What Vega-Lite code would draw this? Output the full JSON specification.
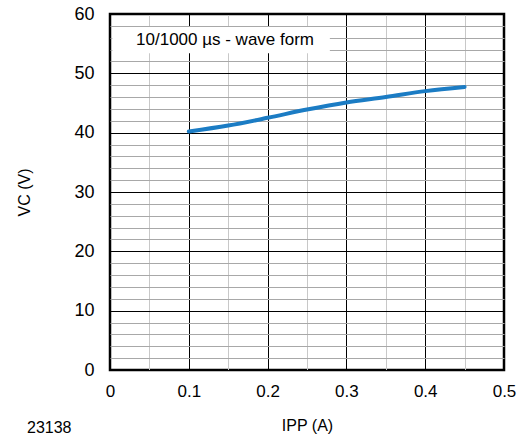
{
  "$schema": "https://vega.github.io/schema/vega-lite/v6.json",
  "width": 394,
  "height": 356,
  "autosize": {"type": "none"},
  "padding": {"left": 110, "top": 14, "right": 18, "bottom": 70},
  "background": "white",
  "config": {
    "font": "Liberation Sans",
    "view": {"stroke": "black", "strokeWidth": 2.5},
    "axis": {"labelFont": "Liberation Sans", "titleFont": "Liberation Sans", "labelColor": "#000", "titleColor": "#000", "titleFontWeight": "normal", "labelOverlap": false, "labelFlush": false}
  },
  "title": {"text": "23138", "orient": "bottom", "anchor": "start", "dx": 10, "dy": -17, "fontSize": 16, "fontWeight": "normal", "font": "Liberation Sans", "color": "#000"},
  "datasets": {
    "curve": [
      {"I": 0.1, "V": 40.2},
      {"I": 0.15, "V": 41.2},
      {"I": 0.2, "V": 42.5},
      {"I": 0.25, "V": 43.9},
      {"I": 0.3, "V": 45.1},
      {"I": 0.35, "V": 46.0},
      {"I": 0.4, "V": 47.0},
      {"I": 0.45, "V": 47.7}
    ],
    "box": [{"x1": 0.003, "x2": 0.279, "y1": 53.4, "y2": 57.8, "xc": 0.146, "yc": 55.6, "label": "10/1000 µs - wave form"}]
  },
  "layer": [
    {
      "data": {"name": "curve"},
      "mark": {"type": "line", "color": "#1b7cc4", "strokeWidth": 4, "interpolate": "monotone", "strokeCap": "round"},
      "encoding": {
        "x": {"field": "I", "type": "quantitative",
          "scale": {"domain": [0, 0.5], "nice": false},
          "axis": {
            "title": "IPP (A)", "titleFontSize": 16, "titlePadding": 18,
            "values": [0, 0.05, 0.1, 0.15, 0.2, 0.25, 0.3, 0.35, 0.4, 0.45, 0.5],
            "tickCount": 100,
            "labelExpr": "round(datum.value*100) % 10 === 0 ? format(datum.value, '.1~f') : ''",
            "labelFontSize": 17, "labelPadding": 13, "ticks": false, "domain": false,
            "grid": true,
            "gridColor": {"condition": {"test": "round(datum.value*100) % 10 === 0", "value": "#000"}, "value": "#c8c8c8"},
            "gridOpacity": 1
          }},
        "y": {"field": "V", "type": "quantitative",
          "scale": {"domain": [0, 60], "nice": false},
          "axis": {
            "title": "VC (V)", "titleFontSize": 16, "titlePadding": 41,
            "values": [0,2,4,6,8,10,12,14,16,18,20,22,24,26,28,30,32,34,36,38,40,42,44,46,48,50,52,54,56,58,60],
            "tickCount": 100,
            "labelExpr": "datum.value % 10 === 0 ? format(datum.value, 'd') : ''",
            "labelFontSize": 18, "labelPadding": 16, "ticks": false, "domain": false,
            "grid": true,
            "gridColor": {"condition": {"test": "datum.value % 10 === 0", "value": "#000"}, "value": "#a8a8a8"},
            "gridOpacity": 1
          }}
      }
    },
    {
      "data": {"name": "box"},
      "mark": {"type": "rect", "color": "white", "opacity": 1},
      "encoding": {
        "x": {"field": "x1", "type": "quantitative"},
        "x2": {"field": "x2"},
        "y": {"field": "y1", "type": "quantitative"},
        "y2": {"field": "y2"}
      }
    },
    {
      "data": {"name": "box"},
      "mark": {"type": "text", "fontSize": 17, "font": "Liberation Sans", "color": "#000", "align": "center", "baseline": "middle"},
      "encoding": {
        "x": {"field": "xc", "type": "quantitative"},
        "y": {"field": "yc", "type": "quantitative"},
        "text": {"field": "label"}
      }
    }
  ]
}
